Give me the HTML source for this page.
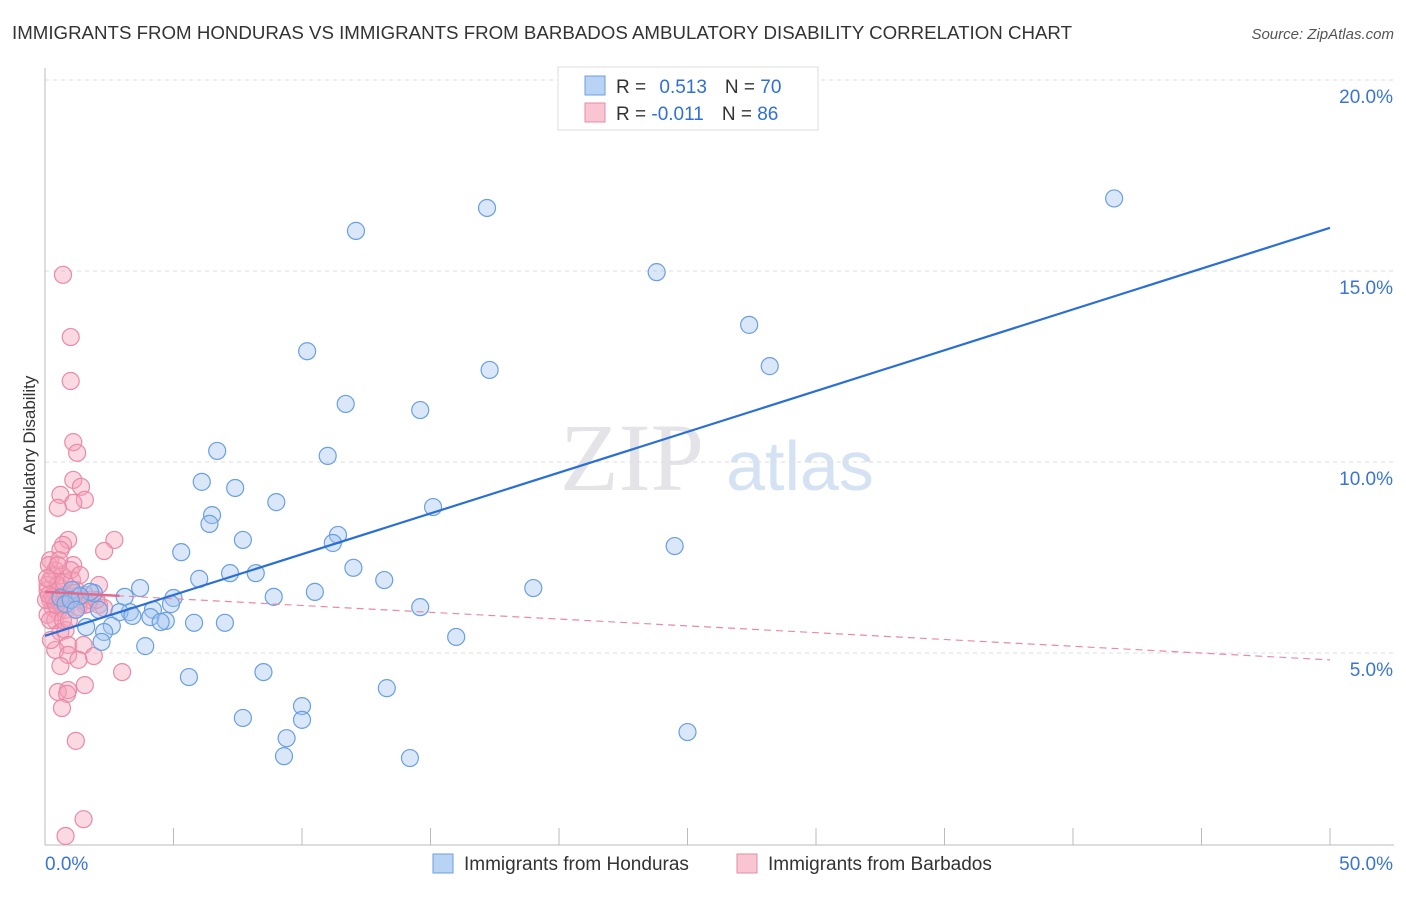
<!DOCTYPE html>
<html><head><meta charset="utf-8"><style>
body{margin:0;background:#fff;font-family:"Liberation Sans",sans-serif}
</style></head><body>
<svg width="1406" height="892" xmlns="http://www.w3.org/2000/svg" style="font-family:'Liberation Sans',sans-serif">
<text x="12" y="39" font-size="18" fill="#333" textLength="1060" lengthAdjust="spacingAndGlyphs">IMMIGRANTS FROM HONDURAS VS IMMIGRANTS FROM BARBADOS AMBULATORY DISABILITY CORRELATION CHART</text>
<text x="1394" y="39" font-size="15" fill="#555" font-style="italic" text-anchor="end">Source: ZipAtlas.com</text>
<text x="632" y="490" font-size="96" fill="#e4e4e8" font-family="Liberation Serif,serif" text-anchor="middle">ZIP</text>
<text x="800" y="490" font-size="70" fill="#d4e2f4" text-anchor="middle">atlas</text>
<g id="grid"></g><g id="axes"></g><g id="pts"></g><g id="reg"></g>
<text x="35" y="455" font-size="17" fill="#333" transform="rotate(-90 35 455)" text-anchor="middle">Ambulatory Disability</text>
<g>
<rect x="558" y="67" width="260" height="63" fill="#fff" stroke="#ddd"/>
<rect x="585" y="76" width="20" height="19" fill="#b9d3f5" stroke="#6a9fe0"/>
<rect x="585" y="103" width="20" height="19" fill="#f9c5d3" stroke="#e88aa6"/>
<text x="616" y="93" font-size="19" fill="#333">R = <tspan fill="#2f6fd6" dx="8">0.513</tspan><tspan dx="18" fill="#333">N = </tspan><tspan fill="#2f6fd6">70</tspan></text>
<text x="616" y="120" font-size="19" fill="#333">R = <tspan fill="#2f6fd6">-0.011</tspan><tspan dx="18" fill="#333">N = </tspan><tspan fill="#2f6fd6">86</tspan></text>
</g>
<g>
<rect x="433" y="854" width="20" height="19" fill="#b9d3f5" stroke="#6a9fe0"/>
<text x="464" y="870" font-size="19" fill="#333">Immigrants from Honduras</text>
<rect x="737" y="854" width="20" height="19" fill="#f9c5d3" stroke="#e88aa6"/>
<text x="768" y="870" font-size="19" fill="#333">Immigrants from Barbados</text>
</g>
</svg>
<script>
const xTicks=[0,5,10,15,20,25,30,35,40,45,50];
const yTicks=[5,10,15,20];
const yTickLabels=["5.0%","10.0%","15.0%","20.0%"];
const xEndLabels=["0.0%","50.0%"];
const hondurasX=[41.6,17.2,12.1,23.8,27.4,10.2,28.2,17.3,11.7,14.6,6.7,11.0,6.1,7.4,9.0,15.1,6.5,6.4,7.7,11.4,11.2,24.5,5.3,12.0,7.2,8.2,6.0,13.2,3.7,10.5,8.9,5.0,19.0,3.1,1.9,1.75,1.05,1.36,4.9,4.2,3.3,2.9,3.4,4.1,4.7,4.5,5.8,7.0,14.6,2.6,1.6,2.3,2.2,3.9,16.0,5.6,8.5,10.0,13.3,7.7,10.0,9.4,9.3,14.2,25.0,0.6,0.8,1.0,1.2,2.1];
const hondurasY=[16.9,16.65,16.05,14.97,13.59,12.9,12.51,12.41,11.52,11.36,10.29,10.16,9.48,9.32,8.95,8.82,8.61,8.38,7.96,8.09,7.88,7.8,7.64,7.23,7.09,7.09,6.94,6.91,6.7,6.6,6.47,6.44,6.7,6.47,6.57,6.6,6.65,6.49,6.28,6.13,6.07,6.07,5.97,5.94,5.84,5.81,5.79,5.79,6.2,5.71,5.68,5.55,5.29,5.18,5.42,4.37,4.5,3.61,4.08,3.3,3.25,2.77,2.3,2.25,2.93,6.44,6.28,6.39,6.13,6.13];
const barbadosX=[0.7,1.0,1.0,1.1,1.25,1.1,0.6,1.4,1.55,1.1,0.5,0.9,0.7,0.6,2.7,2.3,0.2,1.1,0.4,0.66,0.2,0.1,0.4,0.6,0.8,1.0,0.2,0.3,0.5,0.1,0.66,1.2,1.36,1.55,1.75,2.1,2.3,1.3,0.4,0.6,0.8,0.9,1.5,0.4,0.9,1.9,1.3,0.6,3.0,1.55,0.5,0.9,0.86,0.66,1.2,1.5,0.8,0.1,0.3,0.5,0.04,0.2,0.35,0.15,0.5,0.08,0.74,0.55,1.05,1.13,1.55,2.1,0.62,0.3,0.8,1.67,2.0,1.0,1.36,0.43,0.7,0.23,0.93,0.15,1.2,0.5];
const barbadosY=[14.9,13.27,12.12,10.52,10.24,9.53,9.14,9.35,9.01,8.93,8.8,7.96,7.83,7.7,7.96,7.67,7.43,7.3,7.17,7.04,6.91,6.65,6.6,6.7,6.52,6.39,6.39,6.18,6.07,6.0,6.26,6.65,6.39,6.26,6.39,6.26,6.18,6.2,5.86,5.55,5.6,5.21,5.21,5.08,4.95,4.92,4.82,4.66,4.5,4.16,3.98,4.03,3.93,3.56,2.7,0.65,0.21,6.78,7.04,6.78,6.39,5.86,6.39,7.3,6.39,6.96,6.86,7.43,6.91,6.57,6.52,6.78,6.47,6.47,6.13,6.28,6.39,7.17,7.04,6.26,5.86,5.34,5.86,6.52,6.13,7.3];
const hondurasFit=[5.45,16.13];
const barbadosFit=[6.6,4.82];
const NS="http://www.w3.org/2000/svg";
const xs=v=>45+v*25.7, ys=v=>844-v*38.2;
function mk(t,a,p){const e=document.createElementNS(NS,t);for(const k in a)e.setAttribute(k,a[k]);document.getElementById(p).appendChild(e);return e;}
yTicks.forEach((t,i)=>{
 const g=mk('line',{x1:45,x2:1394,y1:ys(t),y2:ys(t),stroke:'#ddd','stroke-dasharray':'4,4'},'grid');
 
 
 const l=mk('text',{x:1393,y:ys(t)+23,'font-size':19,fill:'#3a74d4','text-anchor':'end'},'axes');l.textContent=yTickLabels[i];
 
 
});
const ya=mk('line',{x1:45,x2:45,y1:68,y2:845,stroke:'#bbb'},'axes');


const xa=mk('line',{x1:45,x2:1394,y1:845,y2:845,stroke:'#bbb'},'axes');


xTicks.forEach(t=>{const e=mk('line',{x1:xs(t),x2:xs(t),y1:828,y2:845,stroke:'#bbb'},'axes');
 
 });
[[xEndLabels[0],45,'start'],[xEndLabels[1],1393,'end']].forEach(([s,x,a])=>{const l=mk('text',{x:x,y:870,'font-size':19,fill:'#3a74d4','text-anchor':a},'axes');l.textContent=s;
 
 });
barbadosX.forEach((v,i)=>{const c=mk('circle',{cx:xs(v),cy:ys(barbadosY[i]),r:8.5,fill:'rgba(244,160,184,0.4)',stroke:'#e88aa6','stroke-width':1.2},'pts');
 
 });
hondurasX.forEach((v,i)=>{const c=mk('circle',{cx:xs(v),cy:ys(hondurasY[i]),r:8.5,fill:'rgba(160,196,240,0.4)',stroke:'#6a9fe0','stroke-width':1.2},'pts');
 
 });
const by=x=>barbadosFit[0]+(barbadosFit[1]-barbadosFit[0])*x/50;
const l1=mk('line',{x1:xs(0),y1:ys(by(0)),x2:xs(50),y2:ys(by(50)),stroke:'#e88aa6','stroke-width':1.2,'stroke-dasharray':'7,5'},'reg');


const l1s=mk('line',{x1:xs(0),y1:ys(by(0)),x2:xs(2.9),y2:ys(by(2.9)),stroke:'#e06b8e','stroke-width':2.5},'reg');


const l2=mk('line',{x1:xs(0),y1:ys(hondurasFit[0]),x2:xs(50),y2:ys(hondurasFit[1]),stroke:'#2a6fd6','stroke-width':2.2},'reg');


</script>
</body></html>
